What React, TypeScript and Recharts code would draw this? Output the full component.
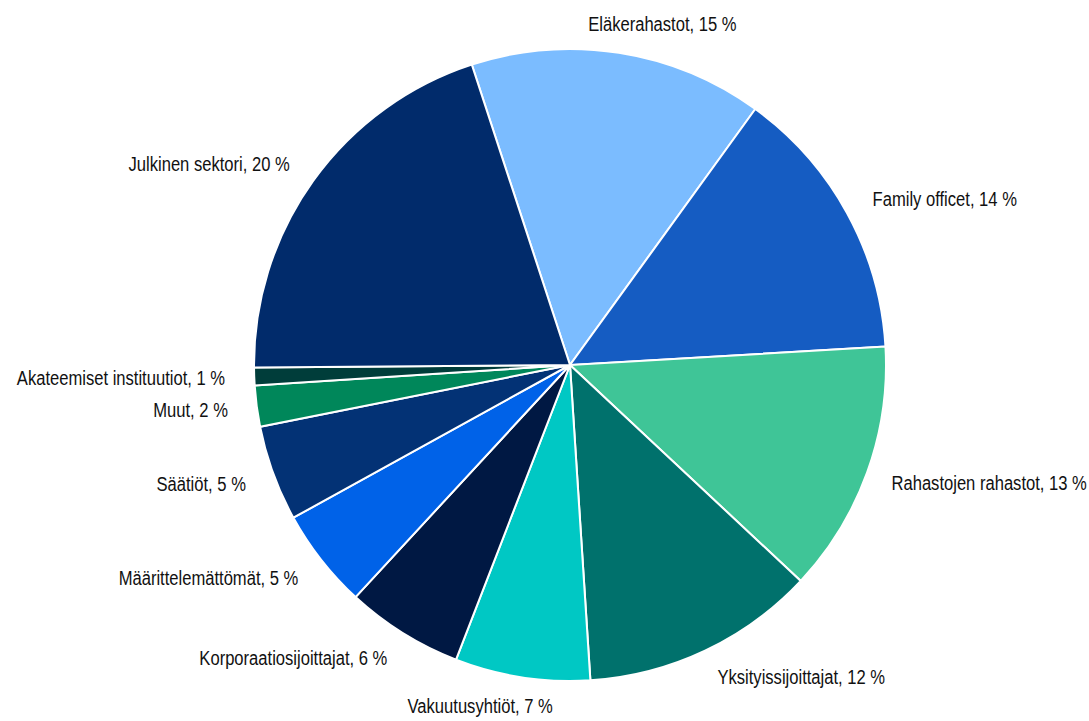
import { PieChart, Pie, Cell } from "recharts";

// Sijoittajatyypit, osuus (%), myötäpäivään klo 12:n vasemmalta puolelta
const categories = [
  "Eläkerahastot",
  "Family officet",
  "Rahastojen rahastot",
  "Yksityissijoittajat",
  "Vakuutusyhtiöt",
  "Korporaatiosijoittajat",
  "Määrittelemättömät",
  "Säätiöt",
  "Muut",
  "Akateemiset instituutiot",
  "Julkinen sektori",
];

const shares = [15.0, 14.1, 12.9, 12.0, 6.9, 6.0, 5.1, 4.9, 2.1, 0.9, 20.1];

const colors = [
  "#7bbcff",
  "#155cc2",
  "#3fc597",
  "#00716c",
  "#00c8c4",
  "#001843",
  "#0062e8",
  "#033275",
  "#00875a",
  "#003d3a",
  "#012b6b",
];

const data = categories.map((name, i) => ({ name, value: shares[i] }));

const RAD = Math.PI / 180;
const FONT_SIZE = 21;
const SQUEEZE = 0.79; // kapea kirjaisin
const FONT = '"Liberation Sans", Arial, sans-serif';

let ctx: CanvasRenderingContext2D | null = null;
function textWidth(s: string) {
  if (!ctx) ctx = document.createElement("canvas").getContext("2d");
  if (!ctx) return s.length * FONT_SIZE * 0.5 * SQUEEZE;
  ctx.font = `${FONT_SIZE}px ${FONT}`;
  return ctx.measureText(s).width * SQUEEZE;
}

function renderLabel(props: any) {
  const { cx, cy, midAngle, outerRadius, name, value } = props;
  const r = outerRadius + 29;
  const cos = Math.cos(-midAngle * RAD);
  const x = cx + r * cos;
  const y = cy + r * Math.sin(-midAngle * RAD);
  const label = `${name}, ${Math.round(value)} %`;
  const w = textWidth(label);
  // osuus tekstin leveydestä ankkurin vasemmalla puolella
  const f = Math.min(1, Math.max(0, 0.5 - 1.7 * cos));
  const left = Math.min(x - f * w, 1087 - w);
  return (
    <text
      transform={`translate(${left},${y}) scale(${SQUEEZE},1)`}
      x={0}
      y={0}
      textAnchor="start"
      dominantBaseline="central"
      fill="#111111"
      fontSize={FONT_SIZE}
      fontFamily={FONT}
    >
      {label}
    </text>
  );
}

export default function App() {
  return (
    <div style={{ position: "absolute", left: 0, top: 0, background: "#fff" }}>
      <PieChart width={1089} height={721} margin={{ top: 0, right: 0, bottom: 0, left: 0 }}>
        <Pie
          data={data}
          dataKey="value"
          nameKey="name"
          cx={570}
          cy={365}
          outerRadius={316}
          startAngle={108.1}
          endAngle={-251.9}
          stroke="#ffffff"
          strokeWidth={2}
          label={renderLabel}
          labelLine={false}
          isAnimationActive={false}
        >
          {data.map((d, i) => (
            <Cell key={d.name} fill={colors[i]} />
          ))}
        </Pie>
      </PieChart>
    </div>
  );
}
